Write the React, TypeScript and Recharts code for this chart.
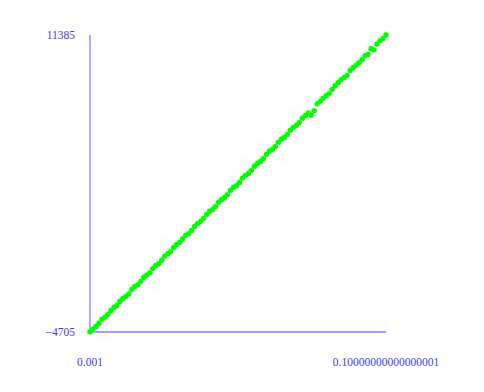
import React from 'react';
import { ScatterChart, Scatter, XAxis, YAxis } from 'recharts';

// x positions, one per point
const xs = [
  0.001, 0.002, 0.003, 0.004, 0.005, 0.006, 0.007, 0.008, 0.009, 0.01,
  0.011, 0.012, 0.013, 0.014, 0.015, 0.016, 0.017, 0.018, 0.019, 0.02,
  0.021, 0.022, 0.023, 0.024, 0.025, 0.026, 0.027, 0.028, 0.029, 0.03,
  0.031, 0.032, 0.033, 0.034, 0.035, 0.036, 0.037, 0.038, 0.039, 0.04,
  0.041, 0.042, 0.043, 0.044, 0.045, 0.046, 0.047, 0.048, 0.049, 0.05,
  0.051, 0.052, 0.053, 0.054, 0.055, 0.056, 0.057, 0.058, 0.059, 0.06,
  0.061, 0.062, 0.063, 0.064, 0.065, 0.066, 0.067, 0.068, 0.069, 0.07,
  0.071, 0.072, 0.073, 0.074, 0.075, 0.076, 0.077, 0.078, 0.079, 0.08,
  0.081, 0.082, 0.083, 0.084, 0.085, 0.086, 0.087, 0.088, 0.089, 0.09,
  0.091, 0.092, 0.093, 0.094, 0.095, 0.096, 0.097, 0.098, 0.099, 0.1,
];

// values
const ys = [
  -4705, -4560, -4410, -4230, -4020, -3900, -3760, -3540, -3380, -3270,
  -3050, -2890, -2780, -2640, -2400, -2240, -2150, -1960, -1740, -1630,
  -1500, -1270, -1100, -1010, -820, -600, -460, -350, -130, 40,
  140, 330, 530, 620, 800, 1010, 1180, 1290, 1440, 1670,
  1820, 1930, 2090, 2330, 2460, 2580, 2740, 2980, 3130, 3220,
  3400, 3640, 3780, 3880, 4050, 4280, 4420, 4530, 4690, 4920,
  5090, 5180, 5340, 5580, 5740, 5830, 6000, 6230, 6380, 6480,
  6640, 6870, 7010, 7160, 7040, 7290, 7660, 7790, 7960, 8100,
  8210, 8440, 8640, 8800, 8960, 9080, 9200, 9460, 9610, 9740,
  9880, 10050, 10270, 10330, 10640, 10580, 10900, 11080, 11200, 11385,
];

const xTicks = [0.001, 0.1];
const xTickLabels = ['0.001', '0.10000000000000001'];
const yTicks = [-4705, 11385];
const yTickLabels = ['\u22124705', '11385'];

const data = xs.map((x, i) => ({ x, y: ys[i] }));

const axisColor = '#8080ff';
const textColor = '#3a3aff';
const tickStyle = { fill: textColor, fontSize: 11.5, fontFamily: 'Liberation Serif, Times New Roman, serif' };

const Dot = (props: any) => <circle cx={props.cx} cy={props.cy} r={2.7} fill="#00ff00" />;

export default function App() {
  return (
    <ScatterChart width={476} height={376} margin={{ top: 27, right: 98, left: 0, bottom: 12 }}>
      <XAxis
        type="number"
        dataKey="x"
        domain={[0.001, 0.1]}
        ticks={xTicks}
        tickFormatter={(v: number) => xTickLabels[xTicks.indexOf(v)] ?? String(v)}
        interval={0}
        height={40}
        tickLine={false}
        tickMargin={20}
        stroke={axisColor}
        strokeWidth={1.3}
        tick={tickStyle}
      />
      <YAxis
        type="number"
        dataKey="y"
        domain={[-4705, 11385]}
        ticks={yTicks}
        tickFormatter={(v: number) => yTickLabels[yTicks.indexOf(v)] ?? String(v)}
        interval={0}
        width={82}
        tickLine={false}
        tickMargin={9}
        stroke={axisColor}
        strokeWidth={1.3}
        tick={tickStyle}
      />
      <Scatter data={data} shape={Dot} isAnimationActive={false} />
    </ScatterChart>
  );
}
